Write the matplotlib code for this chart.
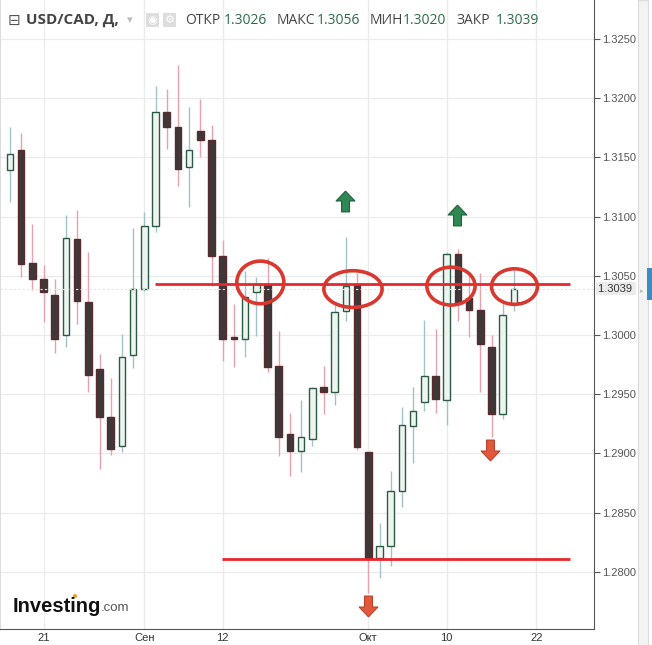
# Import packages.
import numpy as np
import matplotlib
matplotlib.use("Agg")
import matplotlib.pyplot as plt
from matplotlib.patches import Ellipse, Rectangle, Circle
from matplotlib.path import Path

# Daily USD/CAD candles, 16 Aug - 18 Oct (weekdays only).
opens = [1.3139, 1.3156, 1.3061, 1.3047, 1.3034, 1.3000, 1.3081, 1.3028, 1.2971, 1.2931,
         1.2906, 1.2983, 1.3039, 1.3092, 1.3188, 1.3176, 1.3142, 1.3172, 1.3165, 1.3067,
         1.29985, 1.2997, 1.3036, 1.3042, 1.2974, 1.2916, 1.2902, 1.2912, 1.2956, 1.2952,
         1.3020, 1.3042, 1.2901, 1.2812, 1.2822, 1.2868, 1.2923, 1.2943, 1.2965, 1.2945,
         1.3068, 1.3031, 1.3021, 1.2990, 1.2933, 1.3026]
highs = [1.3176, 1.3171, 1.3094, 1.3059, 1.3047, 1.3101, 1.3106, 1.3070, 1.2984, 1.2964,
         1.3001, 1.3090, 1.3104, 1.3210, 1.3208, 1.3228, 1.3193, 1.3199, 1.3177, 1.3080,
         1.3026, 1.3054, 1.3049, 1.3065, 1.3003, 1.2934, 1.2945, 1.2956, 1.2974, 1.3025,
         1.3083, 1.3052, 1.2901, 1.2841, 1.2885, 1.2939, 1.2956, 1.3013, 1.3005, 1.3070,
         1.3073, 1.3050, 1.3052, 1.3000, 1.3027, 1.3056]
lows = [1.3112, 1.3049, 1.3038, 1.3011, 1.2985, 1.2990, 1.3009, 1.2952, 1.2887, 1.2899,
        1.2901, 1.2972, 1.3037, 1.3087, 1.3157, 1.3126, 1.3108, 1.3150, 1.3041, 1.2978,
        1.2973, 1.2981, 1.2999, 1.2969, 1.2898, 1.2881, 1.2884, 1.2906, 1.2933, 1.2941,
        1.3012, 1.2903, 1.2782, 1.2795, 1.2805, 1.2855, 1.2892, 1.2936, 1.2934, 1.2924,
        1.3012, 1.2998, 1.2952, 1.2914, 1.2929, 1.3020]
closes = [1.3153, 1.3060, 1.3047, 1.3036, 1.2997, 1.3082, 1.3029, 1.2966, 1.2931, 1.2904,
          1.2981, 1.3039, 1.3092, 1.3188, 1.3176, 1.3140, 1.3156, 1.3165, 1.3067, 1.2997,
          1.2997, 1.3032, 1.3043, 1.2973, 1.2914, 1.2902, 1.2914, 1.2955, 1.2952, 1.3019,
          1.3041, 1.2905, 1.2811, 1.2822, 1.2868, 1.2924, 1.2936, 1.2965, 1.2946, 1.3068,
          1.3028, 1.3021, 1.2992, 1.2933, 1.3017, 1.3039]

# Date ticks (candle index) and labels.
tick_pos = [3, 12, 19, 32, 39, 47]
tick_labels = ["21", "Сен", "12", "Окт", "10", "22"]
price_ticks = [1.2800, 1.2850, 1.2900, 1.2950, 1.3000, 1.3050, 1.3100, 1.3150, 1.3200, 1.3250]

# Drawn levels: (price, start index, end index).
resistance = (1.3043, 12.95, 50.0)
support = (1.2811, 18.9, 50.0)

# Ellipses round the touches: x, price, width, height.
circles_x = [22.36, 30.63, 39.38, 45.05]
circles_y = [1.30444, 1.30388, 1.30413, 1.30409]
circles_w = [4.2, 5.2, 4.3, 4.1]
circles_h = [0.0036, 0.0031, 0.0032, 0.0030]

# Signal arrows.
up_x = [29.9, 39.9]
up_y = [1.31135, 1.31017]
down_x = [31.97, 42.87]
down_y = [1.27711, 1.29028]

last_price = 1.3039

W, H = 652, 645

def fx(x):
    return x / W

def fy(y):
    return 1 - y / H

fig = plt.figure(figsize=(W / 100, H / 100), dpi=100)
fig.patch.set_facecolor("white")
ax = fig.add_axes([0, 16 / H, 594 / W, 629 / H])

# Grid.
for p in price_ticks:
    ax.axhline(p, color="#ebebeb", lw=0.9, zorder=0)
for t in tick_pos:
    ax.axvline(t, color="#ebebeb", lw=0.9, zorder=0)

# Candles.
n = len(opens)
x = np.arange(n)
o = np.array(opens)
c = np.array(closes)
up = c >= o
body_w = 0.58

ax.vlines(x[up], np.array(lows)[up], np.array(highs)[up], color="#a5c1c8", lw=1, zorder=2)
ax.vlines(x[~up], np.array(lows)[~up], np.array(highs)[~up], color="#e6a3ad", lw=1, zorder=2)

bottoms = np.minimum(o, c)
heights = np.maximum(np.abs(c - o), 0.00006)
ax.bar(x[up], heights[up], bottom=bottoms[up], width=body_w,
       color="#eef4ef", edgecolor="#2c5b45", lw=1, zorder=3)
ax.bar(x[~up], heights[~up], bottom=bottoms[~up], width=body_w,
       color="#3e3839", edgecolor="#5a2a2e", lw=1, zorder=3)

# Last price dotted line.
ax.axhline(last_price, color="#e4e4e4", lw=0.8, ls=(0, (2, 2)), zorder=4)

# Support / resistance lines.
for lvl in [resistance, support]:
    ax.hlines(lvl[0], lvl[1], lvl[2], color="#e8262b", lw=2, zorder=5)

# Ellipses.
for cx, cy, w, h in zip(circles_x, circles_y, circles_w, circles_h):
    ax.add_patch(Ellipse((cx, cy), w, h, fill=False, edgecolor="#d8382f", lw=2.6, zorder=6))

# Arrow markers.
up_arrow = Path([(0, 1), (0.9, 0.05), (0.38, 0.05), (0.38, -1), (-0.38, -1),
                 (-0.38, 0.05), (-0.9, 0.05), (0, 1)])
down_arrow = Path([(vx, -vy) for vx, vy in up_arrow.vertices])
ax.plot(up_x, up_y, ls="none", marker=up_arrow, ms=15, mfc="#2f8753", mec="#1f6038", mew=0.8, zorder=7)
ax.plot(down_x, down_y, ls="none", marker=down_arrow, ms=15, mfc="#e2583b", mec="#b9432c", mew=0.8, zorder=7)

# Axes settings.
ax.set_xlim(-0.884, 52.15)
ax.set_ylim(1.27516, 1.32830)
ax.spines["top"].set_visible(False)
ax.spines["left"].set_color("#dddddd")
ax.spines["right"].set_color("#555555")
ax.spines["bottom"].set_color("#555555")
ax.yaxis.tick_right()
ax.set_yticks(price_ticks)
ax.set_yticklabels(["%.4f" % p for p in price_ticks])
ax.tick_params(axis="y", length=4, width=0.8, color="#555555", pad=2,
               labelsize=8, labelcolor="#555555")
ax.set_xticks(tick_pos)
ax.set_xticklabels(tick_labels)
ax.tick_params(axis="x", length=0, pad=3, labelsize=8, labelcolor="#333333")
for lab in ax.get_xticklabels() + ax.get_yticklabels():
    lab.set_family("Liberation Sans")

# Price tag on the axis.
ax.text(1.006, last_price, "1.3039 ", transform=ax.get_yaxis_transform(), va="center", ha="left",
        fontsize=8, color="#333333", family="Liberation Sans",
        bbox=dict(boxstyle="square,pad=0.15", fc="#ececec", ec="none"), zorder=8)

# Scrollbar strip on the right.
fig.patches.append(Rectangle((fx(638), 0), 10 / W, 1, transform=fig.transFigure,
                             fc="#f3f3f3", ec="#dcdcdc", lw=0.8))
fig.patches.append(Rectangle((fx(647), fy(300)), 5 / W, 32 / H, transform=fig.transFigure,
                             fc="#3a8cc4", ec="none"))
fig.text(fx(640), fy(291), "▸", fontsize=5, color="#bbbbbb", va="center")

# Header.
hy = fy(20)
fig.text(fx(8), hy, "⊟", fontsize=11, color="#555555", va="center", family="DejaVu Sans")
fig.text(fx(26), hy, "USD/CAD, Д,", fontsize=11, color="#444444", va="center",
         family="Open Sans", weight="bold")
fig.text(fx(127), hy, "▾", fontsize=8, color="#bbbbbb", va="center", family="DejaVu Sans")
for ix, ic in [(146, "◉"), (163, "⚙")]:
    fig.patches.append(Rectangle((fx(ix), fy(27)), 13 / W, 14 / H, transform=fig.transFigure,
                                 fc="#dddddd", ec="none"))
    fig.text(fx(ix + 6.5), fy(20), ic, fontsize=8, color="white", va="center", ha="center",
             family="DejaVu Sans")
header = [("ОТКР", 185, "1.3026", 224), ("МАКС", 277, "1.3056", 317),
          ("МИН", 370, "1.3020", 403), ("ЗАКР", 457, "1.3039", 496)]
for name, nx, val, vx in header:
    fig.text(fx(nx), hy, name, fontsize=10, color="#444444", va="center", family="Open Sans")
    fig.text(fx(vx), hy, val, fontsize=10, color="#2b6b4b", va="center", family="Open Sans")

# Investing.com logo.
fig.text(fx(13), fy(606), "Investing", fontsize=14.5, color="#111111", va="center",
         family="Liberation Sans", weight="bold")
fig.text(fx(101), fy(608), ".com", fontsize=9.5, color="#555555", va="center",
         family="Liberation Sans")
fig.patches.append(Circle((fx(75), fy(596)), 2 / W, transform=fig.transFigure,
                          fc="#f0a020", ec="none"))

fig.savefig("out.png", dpi=100)
